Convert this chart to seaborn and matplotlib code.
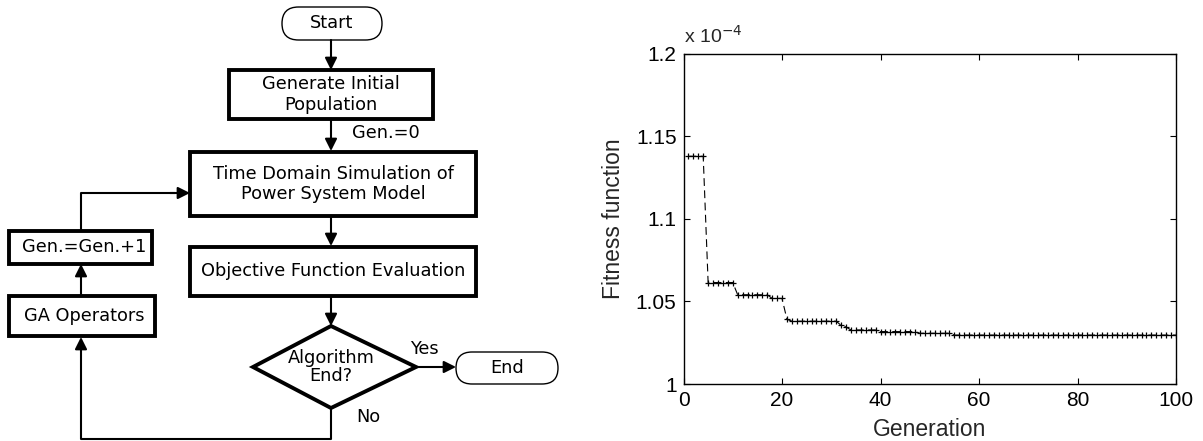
import matplotlib
matplotlib.use("Agg")
import matplotlib.pyplot as plt
import numpy as np
import pandas as pd
import seaborn as sns
from matplotlib.patches import Rectangle, FancyBboxPatch, Polygon
from matplotlib.ticker import FuncFormatter

# ---------------- data ----------------
generations = list(range(1, 101))
fitness_x1e4 = [
    1.1378, 1.1378, 1.1378, 1.1378,                                   # 1-4
    1.0614, 1.0614, 1.0614, 1.0614, 1.0614, 1.0614,                   # 5-10
    1.0540, 1.0540, 1.0540, 1.0540, 1.0540, 1.0540, 1.0540,           # 11-17
    1.0518, 1.0518, 1.0518,                                           # 18-20
    1.0392,                                                           # 21
    1.0380, 1.0380, 1.0380, 1.0380, 1.0380,
    1.0380, 1.0380, 1.0380, 1.0380, 1.0380,                           # 22-31
    1.0355, 1.0345,                                                   # 32-33
    1.0327, 1.0327, 1.0327, 1.0327, 1.0327, 1.0327,                   # 34-39
    1.0317, 1.0317, 1.0317, 1.0317, 1.0317, 1.0317, 1.0317, 1.0317,   # 40-47
    1.0307, 1.0307, 1.0307, 1.0307, 1.0307, 1.0307, 1.0307,           # 48-54
    1.0296, 1.0296, 1.0296, 1.0296, 1.0296, 1.0296, 1.0296, 1.0296, 1.0296, 1.0296,
    1.0296, 1.0296, 1.0296, 1.0296, 1.0296, 1.0296, 1.0296, 1.0296, 1.0296, 1.0296,
    1.0296, 1.0296, 1.0296, 1.0296, 1.0296, 1.0296, 1.0296, 1.0296, 1.0296, 1.0296,
    1.0296, 1.0296, 1.0296, 1.0296, 1.0296, 1.0296, 1.0296, 1.0296, 1.0296, 1.0296,
    1.0296, 1.0296, 1.0296, 1.0296, 1.0296, 1.0296,                   # 55-100
]
x_ticks = [0, 20, 40, 60, 80, 100]
y_ticks = [1.0, 1.05, 1.1, 1.15, 1.2]
x_label = "Generation"
y_label = "Fitness function"
exponent_label = "x 10$^{-4}$"

# flowchart texts
fc_start = "Start"
fc_init = "Generate Initial\nPopulation"
fc_gen0 = "Gen.=0"
fc_sim = "Time Domain Simulation of\nPower System Model"
fc_obj = "Objective Function Evaluation"
fc_decide = "Algorithm\nEnd?"
fc_yes = "Yes"
fc_no = "No"
fc_end = "End"
fc_ga = "GA Operators"
fc_inc = "Gen.=Gen.+1"

df = pd.DataFrame({"Generation": generations, "Fitness": fitness_x1e4})

# ---------------- figure ----------------
sns.set_theme(style="ticks")
plt.rcParams["font.family"] = ["Liberation Sans", "DejaVu Sans"]

W, H = 1203, 441
fig = plt.figure(figsize=(W / 100, H / 100), dpi=100)
fig.patch.set_facecolor("white")

# ---------- flowchart (pixel coordinates) ----------
axf = fig.add_axes([0, 0, 601 / W, 1])
axf.set_xlim(0, 601)
axf.set_ylim(H, 0)
axf.axis("off")

FC_FONT = dict(family="DejaVu Sans", fontsize=12.8, color="black")
BOX_LW = 2.8


def box(x0, y0, x1, y1, text, **kw):
    axf.add_patch(Rectangle((x0, y0), x1 - x0, y1 - y0, fill=False,
                            lw=BOX_LW, ec="black", joinstyle="miter"))
    axf.text((x0 + x1) / 2 + kw.pop("dx", 0), (y0 + y1) / 2, text,
             ha="center", va="center", linespacing=1.2, **FC_FONT)


def terminal(x0, y0, x1, y1, text):
    h = y1 - y0
    axf.add_patch(FancyBboxPatch((x0, y0), x1 - x0, h,
                                 boxstyle=f"round,pad=0,rounding_size={h/2}",
                                 fill=False, lw=1.0, ec="black"))
    axf.text((x0 + x1) / 2, (y0 + y1) / 2, text, ha="center", va="center",
             **FC_FONT)


def arrow(x0, y0, x1, y1):
    axf.annotate("", xy=(x1, y1), xytext=(x0, y0),
                 arrowprops=dict(arrowstyle="-|>", lw=1.5, color="black",
                                 mutation_scale=18, shrinkA=0, shrinkB=0))


def line(xs, ys):
    axf.plot(xs, ys, color="black", lw=1.5, solid_capstyle="butt")


cx = 331
terminal(282, 7, 382, 40, fc_start)
arrow(cx, 40, cx, 70)
box(229, 70, 433, 119, fc_init)
arrow(cx, 119, cx, 151)
axf.text(352, 133, fc_gen0, ha="left", va="center", **FC_FONT)
box(190, 152, 476, 216, fc_sim)
arrow(cx, 216, cx, 246)
box(190, 247, 476, 296, fc_obj)
arrow(cx, 296, cx, 326)
axf.add_patch(Polygon([[cx, 326], [416, 367], [cx, 408], [253, 367]],
                      closed=True, fill=False, lw=BOX_LW, ec="black",
                      joinstyle="miter"))
axf.text(cx, 367, fc_decide, ha="center", va="center", linespacing=1.05,
         **FC_FONT)
axf.text(410, 349, fc_yes, ha="left", va="center", **FC_FONT)
arrow(416, 367, 456, 367)
terminal(456, 352, 558, 384, fc_end)
axf.text(356, 417, fc_no, ha="left", va="center", **FC_FONT)
line([cx, cx, 81, 81], [408, 439, 439, 345])
arrow(81, 350, 81, 337)
box(9, 296, 155, 336, fc_ga, dx=2)
arrow(81, 296, 81, 264)
box(9, 231, 152, 264, fc_inc, dx=4)
line([81, 81, 175], [231, 193, 193])
arrow(170, 193, 190, 193)

# ---------- fitness chart ----------
ax = fig.add_axes([683.5 / W, (H - 384) / H, (1176 - 683.5) / W, (384 - 53.5) / H])
sns.lineplot(data=df, x="Generation", y="Fitness", ax=ax, color="black",
             linestyle=(0, (7, 4)), lw=0.8, marker="+", markersize=5,
             markeredgewidth=0.9, markeredgecolor="black")
ax.set_xlim(0, 100)
ax.set_ylim(1.0, 1.2)
ax.set_xticks(x_ticks)
ax.set_yticks(y_ticks)
ax.yaxis.set_major_formatter(FuncFormatter(lambda v, p: f"{v:g}"))
ax.xaxis.set_major_formatter(FuncFormatter(lambda v, p: f"{v:g}"))
ax.tick_params(direction="in", length=4, width=0.8, labelsize=15,
               top=True, right=True, colors="black", pad=5)
for s in ax.spines.values():
    s.set_visible(True)
    s.set_color("black")
    s.set_linewidth(1.0)
ax.set_xlabel(x_label, fontsize=16.5, labelpad=6)
ax.set_ylabel(y_label, fontsize=16.5, labelpad=8)
ax.text(0.0, 1.02, exponent_label, transform=ax.transAxes, fontsize=14,
        ha="left", va="bottom")
ax.grid(False)
ax.set_facecolor("white")

fig.savefig("out.png", dpi=100, facecolor="white")
